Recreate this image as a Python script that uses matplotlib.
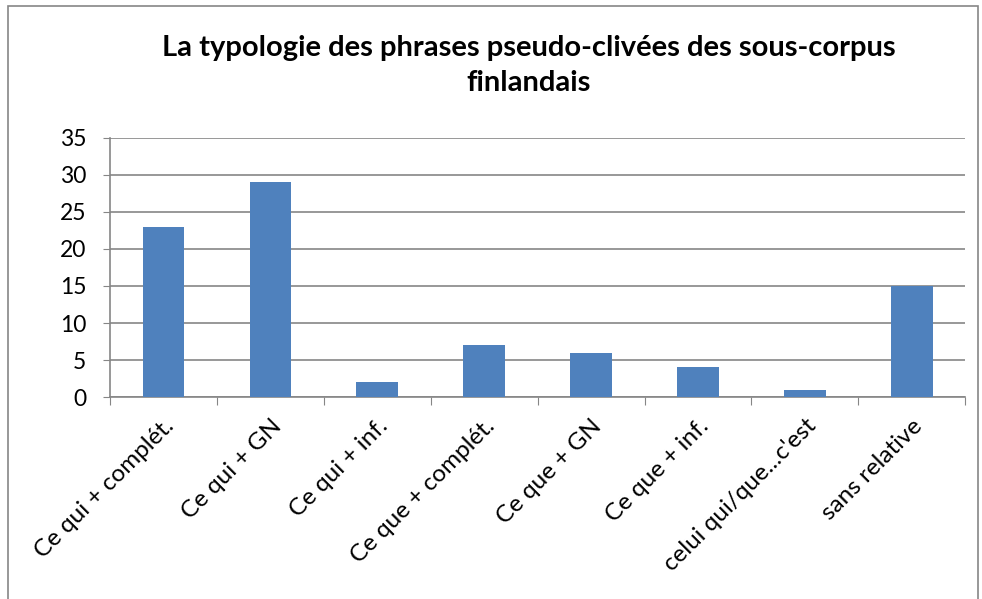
import matplotlib.pyplot as plt
import numpy as np
from matplotlib.patches import Rectangle

plt.rcParams["font.family"] = ["Lato", "DejaVu Sans"]

categories = ["Ce qui + complét.", "Ce qui + GN", "Ce qui + inf.", "Ce que + complét.",
              "Ce que + GN", "Ce que + inf.", "celui qui/que...c'est", "sans relative"]
values = [23, 29, 2, 7, 6, 4, 1, 15]
y_ticks = [0, 5, 10, 15, 20, 25, 30, 35]

fig = plt.figure(figsize=(9.82, 5.99), dpi=100)
ax = fig.add_axes([0.112, 0.337, 0.871, 0.433])

x = np.arange(len(categories))
ax.bar(x, values, width=0.39, color="#4F81BD", zorder=3)

ax.set_xlim(-0.5, len(categories) - 0.5)
ax.set_ylim(0, 35)
ax.set_yticks(y_ticks)
ax.tick_params(axis="y", labelsize=16.5, length=5, color="#868686", pad=12)
ax.yaxis.grid(True, color="#868686", linewidth=1.2, zorder=0)

# category boundaries get the tick marks, labels sit at the centers
ax.set_xticks(np.arange(len(categories) + 1) - 0.5)
ax.set_xticklabels([])
ax.tick_params(axis="x", length=6, color="#868686")
ax.set_xticks(x, minor=True)
ax.set_xticklabels(categories, minor=True, rotation=45, ha="right",
                   rotation_mode="anchor", fontsize=17.5)
ax.tick_params(axis="x", which="minor", length=0, pad=13)

for side in ["top", "right"]:
    ax.spines[side].set_visible(False)
for side in ["left", "bottom"]:
    ax.spines[side].set_color("#868686")
    ax.spines[side].set_linewidth(1.2)

fig.text(0.538, 0.89, "La typologie des phrases pseudo-clivées des sous-corpus\nfinlandais",
         ha="center", va="center", fontsize=21, fontweight="bold", linespacing=1.42)

fig.patches.append(Rectangle((0.008, -0.01), 0.988, 1.0, transform=fig.transFigure,
                             fill=False, edgecolor="#868686", linewidth=1.2))

fig.savefig("out.png", dpi=100)
